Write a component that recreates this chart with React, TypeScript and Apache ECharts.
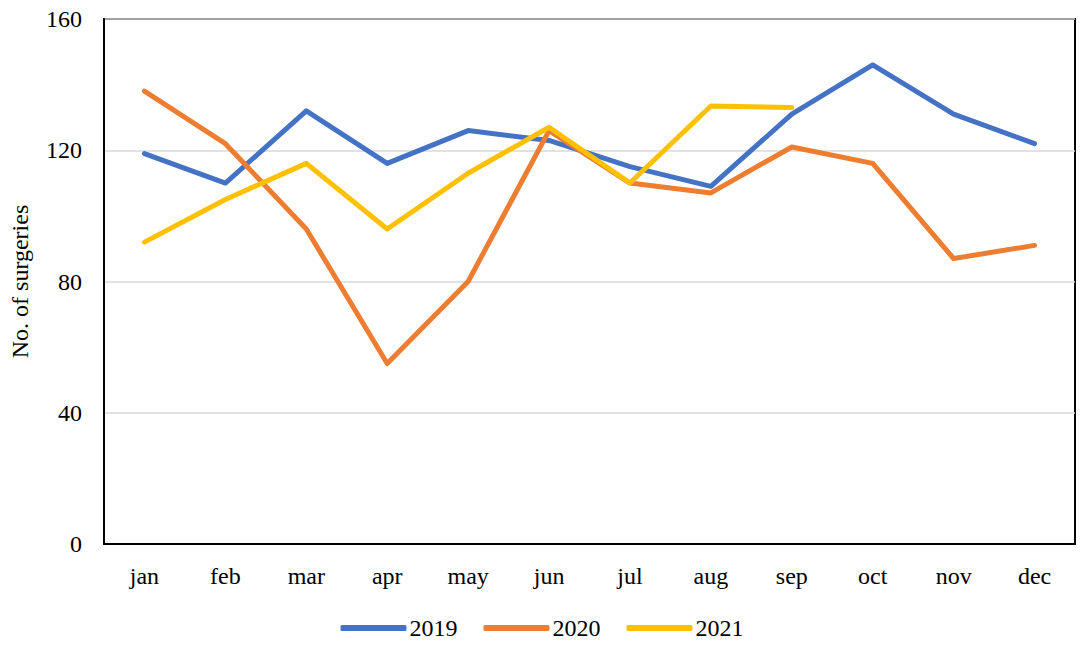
import React, { useEffect, useRef } from "react";
import * as echarts from "echarts";

const months = ["jan", "feb", "mar", "apr", "may", "jun", "jul", "aug", "sep", "oct", "nov", "dec"];
const s2019 = [119, 110, 132, 116, 126, 123, 115, 109, 131, 146, 131, 122];
const s2020 = [138, 122, 96, 55, 80, 126, 110, 107, 121, 116, 87, 91];
const s2021 = [92, 105, 116, 96, 113, 127, 110, 133.5, 133];
const yTicks = { min: 0, max: 160, interval: 40 };

const FONT = "Liberation Serif";

export default function App() {
  const ref = useRef<HTMLDivElement>(null);
  useEffect(() => {
    if (!ref.current) return;
    const chart = echarts.init(ref.current, undefined, { renderer: "svg" });
    const mk = (name: string, data: number[], color: string) => ({
      name,
      type: "line",
      data,
      symbol: "none",
      color,
      lineStyle: { width: 5, color, cap: "round", join: "round" },
    });
    chart.setOption({
      animation: false,
      backgroundColor: "#ffffff",
      textStyle: { fontFamily: FONT, color: "#000" },
      grid: {
        left: 99,
        right: 9,
        top: 19,
        bottom: 107,
        show: true,
        borderColor: "#000",
        borderWidth: 2,
        backgroundColor: "transparent",
      },
      legend: {
        bottom: 6,
        left: "center",
        icon: "roundRect",
        itemWidth: 66,
        itemHeight: 6,
        itemGap: 26,
        textStyle: { fontFamily: FONT, fontSize: 24, color: "#000", padding: [0, 0, 0, -2] },
        data: ["2019", "2020", "2021"],
      },
      xAxis: {
        type: "category",
        data: months,
        boundaryGap: true,
        axisLine: { show: true, lineStyle: { color: "#000", width: 2 } },
        axisTick: { show: false },
        axisLabel: { fontFamily: FONT, fontSize: 24, color: "#000", margin: 20 },
        splitLine: { show: false },
      },
      yAxis: {
        type: "value",
        min: yTicks.min,
        max: yTicks.max,
        interval: yTicks.interval,
        name: "No. of surgeries",
        nameLocation: "middle",
        nameGap: 72,
        nameTextStyle: { fontFamily: FONT, fontSize: 24, color: "#000" },
        axisLine: { show: true, lineStyle: { color: "#000", width: 2 } },
        axisTick: { show: false },
        axisLabel: { fontFamily: FONT, fontSize: 24, color: "#000", margin: 22 },
        splitLine: { show: true, lineStyle: { color: "#d9d9d9", width: 1.5 } },
      },
      series: [
        mk("2019", s2019, "#4472C4"),
        mk("2020", s2020, "#ED7D31"),
        mk("2021", s2021, "#FFC000"),
      ],
    });
    return () => chart.dispose();
  }, []);
  return (
    <div
      ref={ref}
      style={{ position: "fixed", left: 0, top: 0, width: 1084, height: 651, background: "#fff" }}
    />
  );
}
